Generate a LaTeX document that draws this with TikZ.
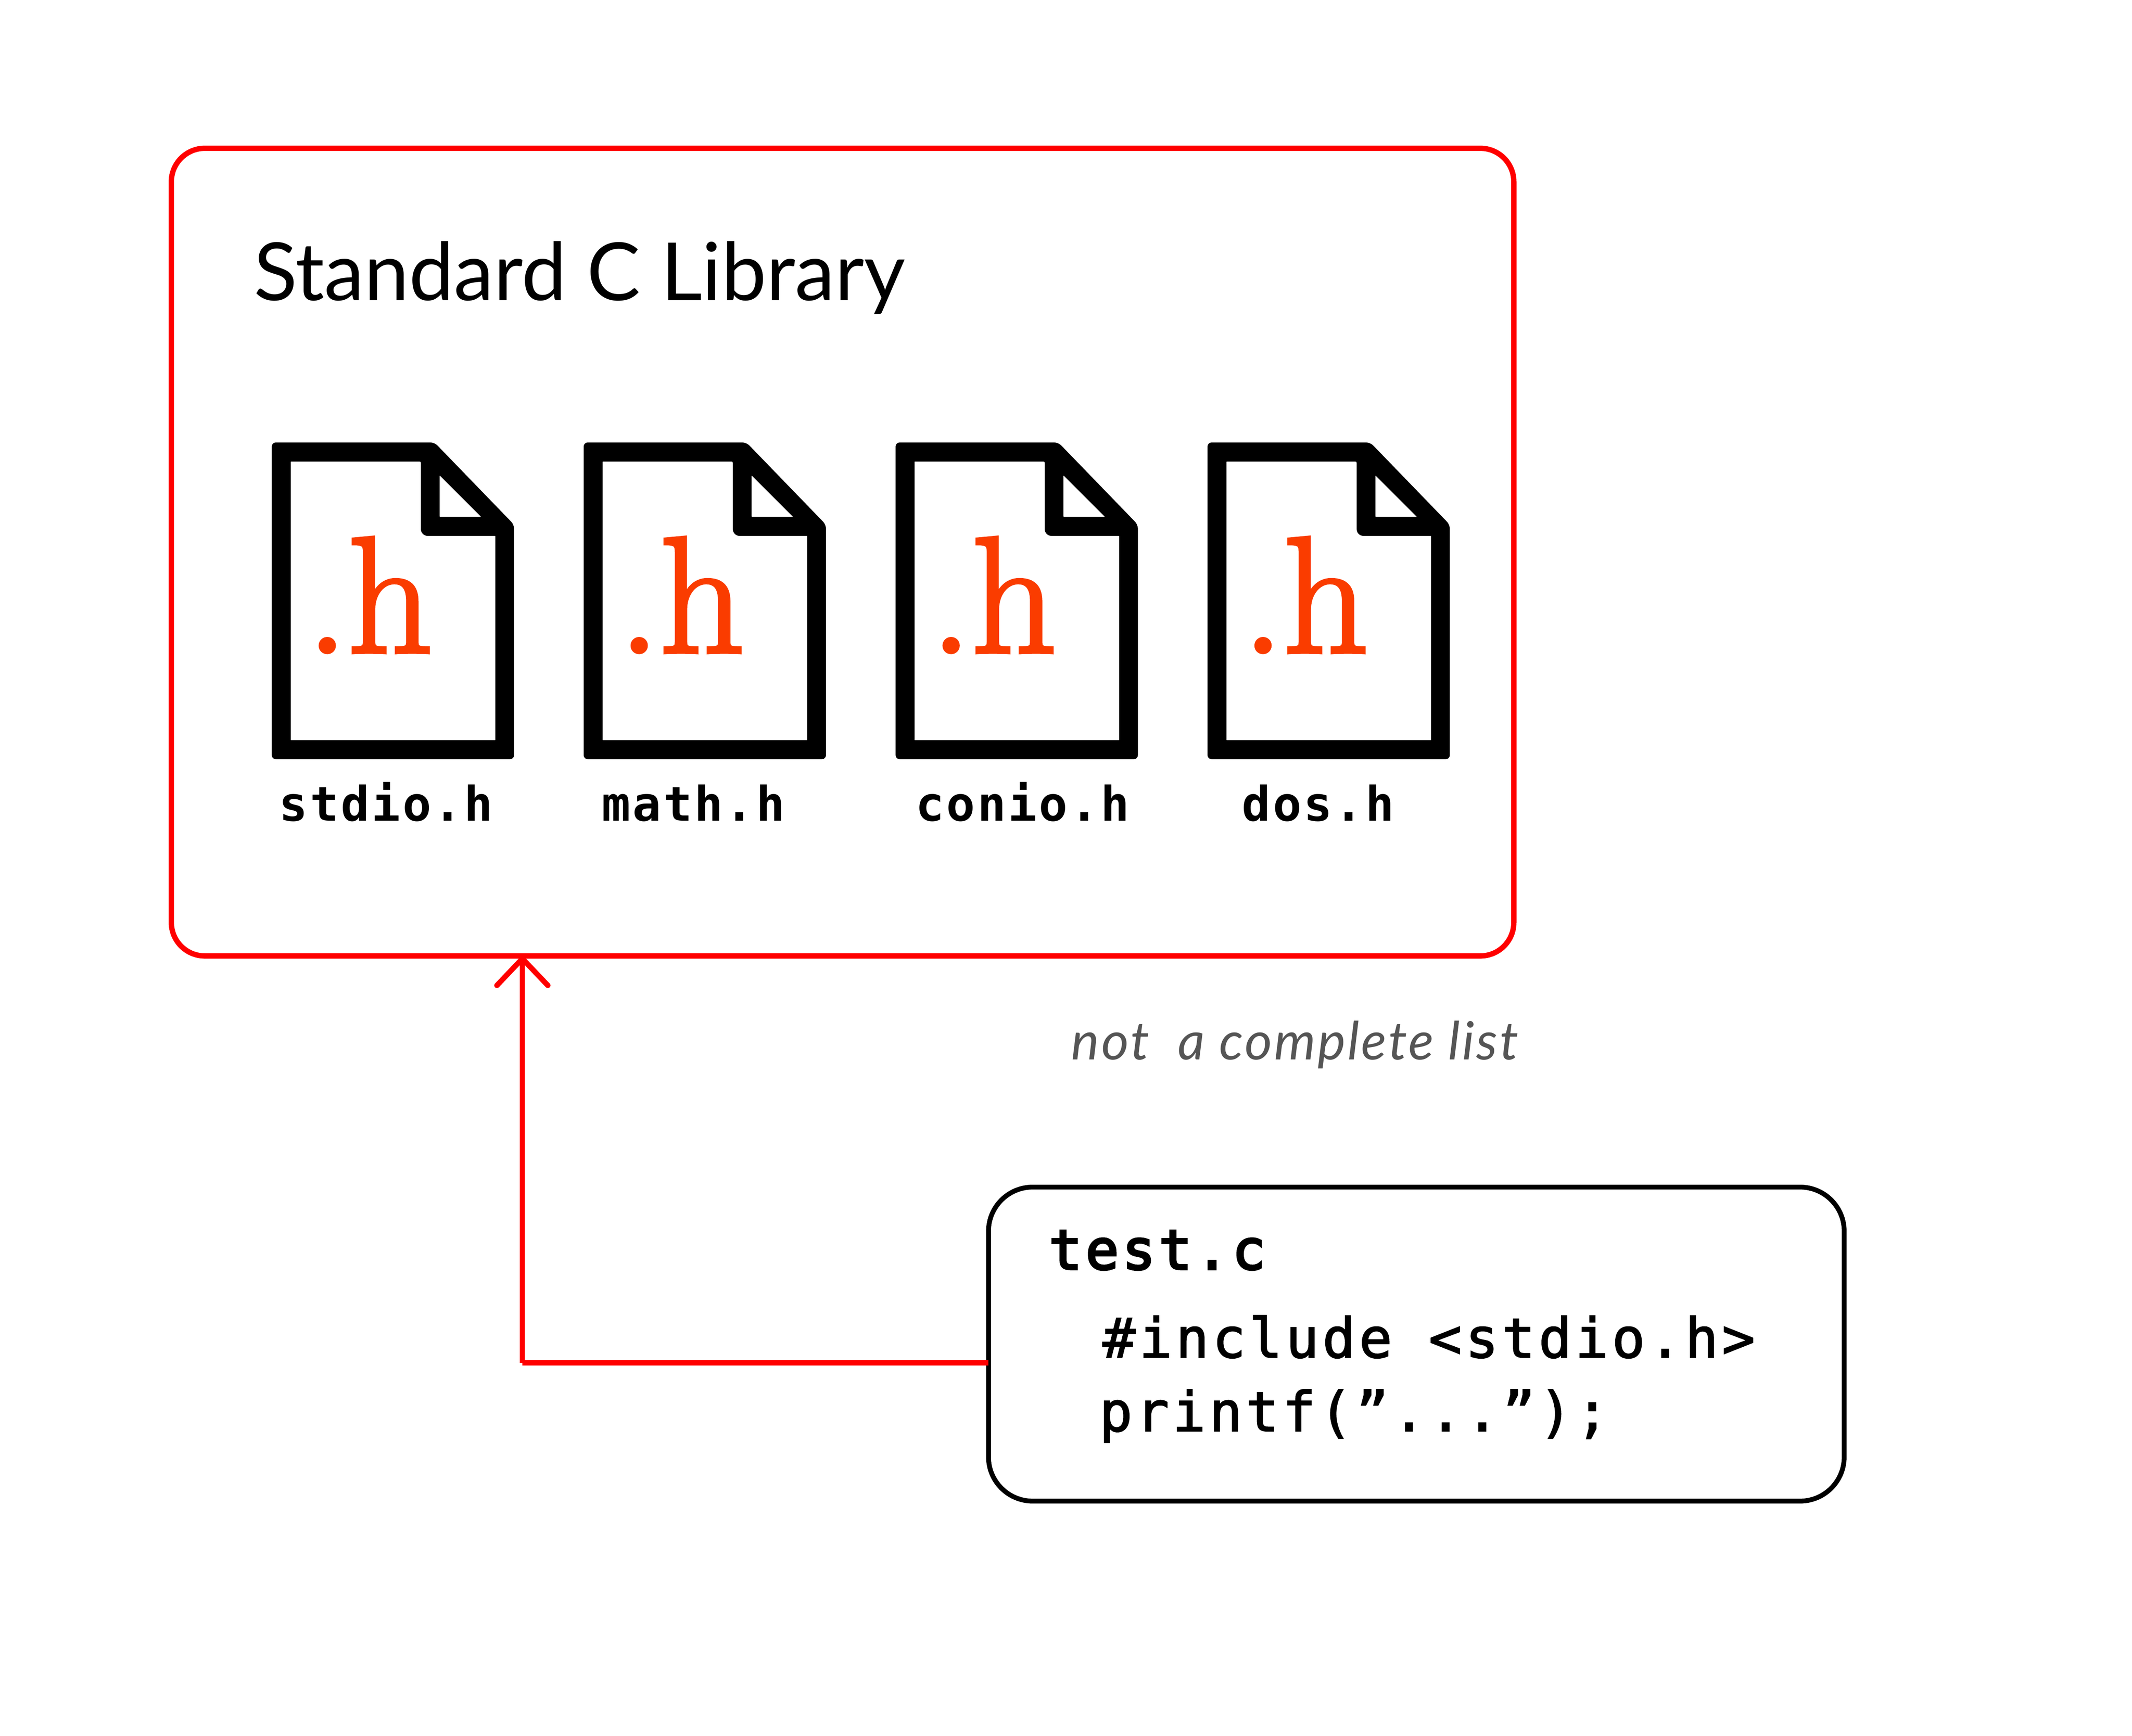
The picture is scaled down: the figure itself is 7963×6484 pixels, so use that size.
\documentclass[tikz,border=0pt]{standalone}
\usepackage{fontspec}
\usetikzlibrary{arrows.meta}
\newfontfamily\titlefont{Lato}
\newfontfamily\notefont{Lato}[LetterSpace=3.9]
\newfontfamily\hfont{Latin Modern Roman}[FakeBold=2.2]
\newfontfamily\smallmono{DejaVu Sans Mono}[LetterSpace=4.5]
\newfontfamily\bigmono{DejaVu Sans Mono}[LetterSpace=6.6,FakeBold=2]
\newfontfamily\namemono{DejaVu Sans Mono}[LetterSpace=6.6,FakeBold=4]
\definecolor{libred}{HTML}{FF0000}
\definecolor{hred}{HTML}{FA3C00}
\definecolor{notegray}{HTML}{555555}
\tikzset{
  x=0.2mm,y=-0.2mm,
  txt/.style={anchor=base west,inner sep=0pt,outer sep=0pt},
  libbox/.style={draw=libred,line width=4mm,rounded corners=25mm,inner sep=0pt,minimum width=1002.8mm,minimum height=603.4mm},
  codebox/.style={draw=black,line width=3.6mm,rounded corners=33mm,inner sep=0pt,minimum width=639.2mm,minimum height=234.6mm},
  conn/.style={draw=libred,line width=4mm},
  hdr/.style={txt,font=\smallmono\bfseries\fontsize{101.3pt}{101.3pt}\selectfont},
  code/.style={txt,font=\bigmono\fontsize{116.6pt}{116.6pt}\selectfont},
}
\begin{document}
\begin{tikzpicture}
\useasboundingbox (0,0) rectangle (7963,6484);
\node[libbox] (lib) at (3147,2062.5) {};
\node[codebox] (test) at (5290,5021) {};
\coordinate (start) at (3692,5091);
\coordinate (elbow) at (1951,5091);
\draw[conn] (start) -- (elbow);
\draw[conn,shorten >=-2mm,-{Straight Barb[length=20mm,width=38mm,line width=4mm,round=false]}] (elbow) -- (elbow |- lib.south);
\node[txt,font=\titlefont\fontsize{170.5pt}{170.5pt}\selectfont] (title) at (948,1122) {Standard C Library};
\foreach \d/\n in {0/a,1165/b,2330/c,3495/d}{
  \begin{scope}[xshift=\d*0.2mm]
    \fill[black,rounded corners=3mm]
      (1015,1653) -- (1623,1653) -- (1920,1960) -- (1920,2836) -- (1015,2836) -- cycle;
    \fill[white,rounded corners=1mm]
      (1086,1724) -- (1572,1724) -- (1572,1980) [rounded corners=5mm] -- (1572,2002) [rounded corners=0.2mm] -- (1850,2002) -- (1850,2765) -- (1086,2765) -- cycle;
    \fill[white,rounded corners=0.4mm] (1642,1776) -- (1797,1931) -- (1642,1931) -- cycle;
    \node[txt,text=hred,font=\hfont\fontsize{352pt}{352pt}\selectfont] (h\n) at (1145,2437) {.h};
  \end{scope}
}
\node[hdr] (s1) at (1043,3067) {stdio.h};
\node[hdr] (s2) at (2248,3067) {math.h};
\node[hdr] (s3) at (3420,3067) {conio.h};
\node[hdr] (s4) at (4639,3067) {dos.h};
\node[txt,text=notegray,font=\notefont\itshape\fontsize{112pt}{112pt}\selectfont] (note) at (4002,3959) {not\ \ a complete list};
\node[txt,font=\namemono\fontsize{116.6pt}{116.6pt}\selectfont] (fname) at (3918,4741) {test.c};
\node[code] (inc) at (4118,5071) {\#include <stdio.h>};
\node[code] (pr) at (4106,5346) {printf(”...”);};
\end{tikzpicture}
\end{document}
